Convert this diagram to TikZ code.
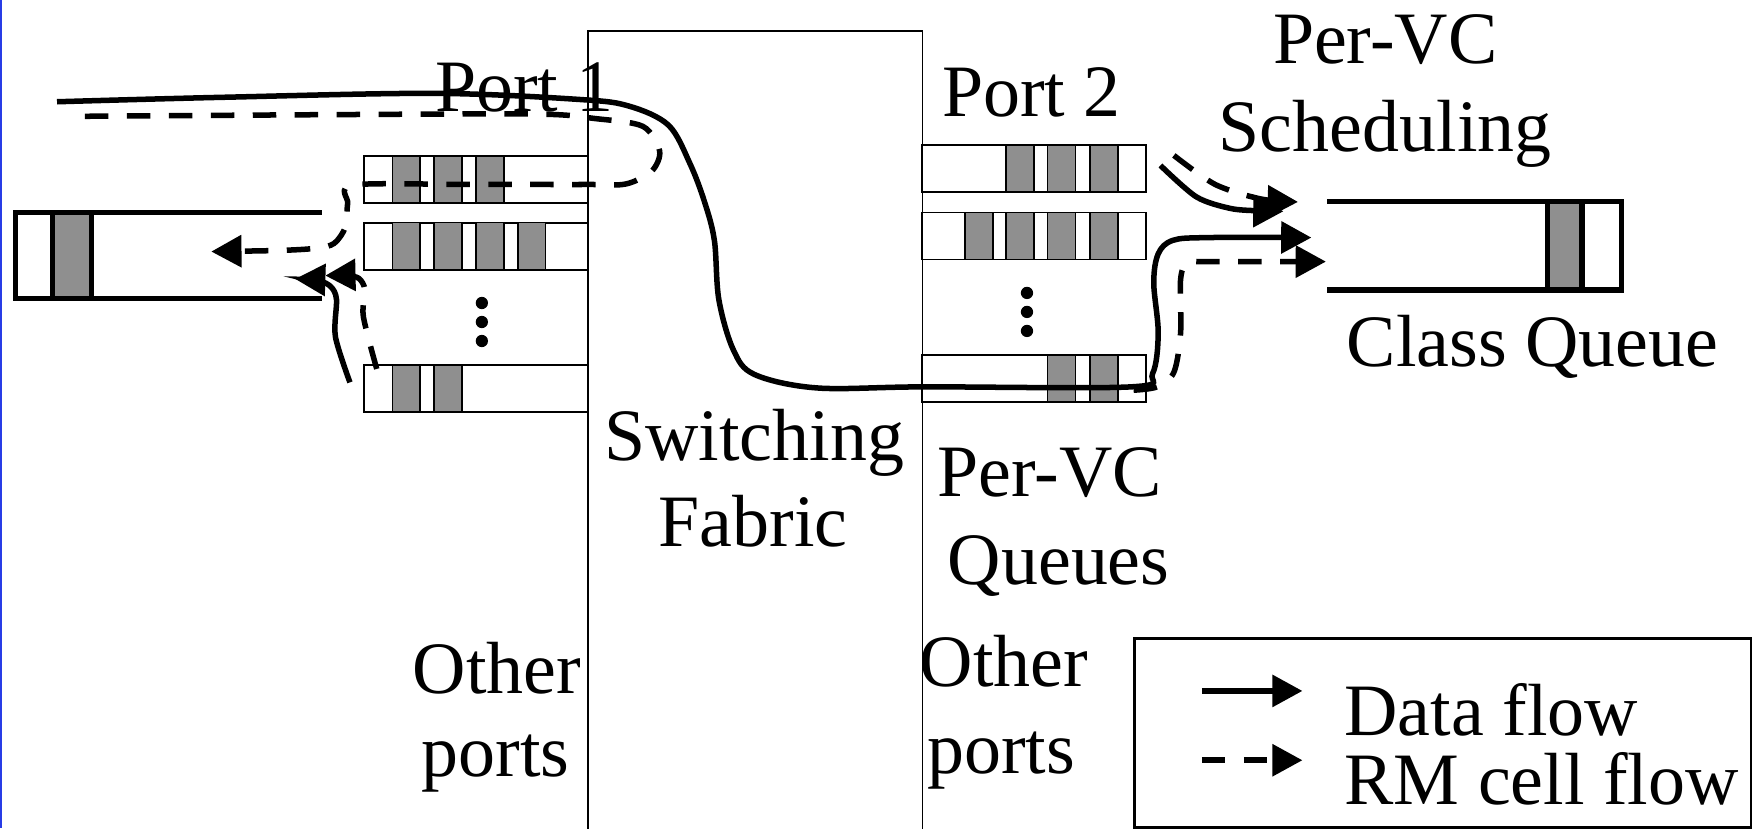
\documentclass[tikz,border=0pt]{standalone}
\usepackage{fontspec}
\setmainfont{Liberation Serif}
\usetikzlibrary{%
  arrows.meta,
  calc
}

\definecolor{cellgrey}{RGB}{143,143,143}
\definecolor{edgeblue}{RGB}{40,60,230}

\begin{document}
\begin{tikzpicture}[x=0.01cm, y=-0.01cm,
    font=\fontsize{18.8}{22.5}\selectfont,
    dataflow/.style={line width=1.4pt, -{Triangle[length=0.27cm,width=0.28cm]}},
    rmflow/.style={dataflow, dash pattern=on 0.21cm off 0.165cm},
    rowq/.style={draw, line width=0.45pt, minimum width=2.0cm, minimum height=0.42cm, inner sep=0},
    cell/.style={draw, fill=cellgrey, line width=0.45pt},
    bigq/.style={line width=1.3pt},
    lbl/.style={inner sep=0, anchor=base}]
    \useasboundingbox (0,0) rectangle (1568,741);
    \draw[edgeblue, line width=0.6pt] (0.8,0) -- (0.8,741);

    % switching fabric and the two sets of per-VC queues
    \node[draw, line width=0.4pt, minimum width=2.99cm, minimum height=7.32cm, inner sep=0] (fabric) at (675.5,394) {};

    \node[rowq] (q1a) at (425.5,160.6) {};
    \node[rowq] (q1b) at (425.5,220.2) {};
    \node[rowq] (q1c) at (425.5,347.2) {};
    \foreach \cx in {351,388,425.5} {
        \draw[cell] (\cx,139.5) rectangle ++(25,42.2);
    }
    \foreach \cx in {351,388,425.5,463} {
        \draw[cell] (\cx,199) rectangle ++(25,42.4);
    }
    \foreach \cx in {351,388} {
        \draw[cell] (\cx,326.5) rectangle ++(25,41.5);
    }

    \node[rowq] (q2a) at (925,151) {};
    \node[rowq] (q2b) at (925,211) {};
    \node[rowq] (q2c) at (925,338.8) {};
    \foreach \cx in {900,937,975} {
        \draw[cell] (\cx,130) rectangle ++(25,42);
    }
    \foreach \cx in {863,900,937,975} {
        \draw[cell] (\cx,190) rectangle ++(25,42);
    }
    \foreach \cx in {937,975} {
        \draw[cell] (\cx,317.8) rectangle ++(25,42);
    }

    \foreach \dy in {271,288,305} {
        \fill (431,\dy) circle (5.5);
        \fill (918.6,\dy-9) circle (5.5);
    }

    % class queues
    \fill[cellgrey] (47,190) rectangle (82,267);
    \draw[bigq] (288,190) -- (14,190) -- (14,267) -- (288,267);
    \draw[bigq] (47,190) -- (47,267);
    \draw[bigq] (82,190) -- (82,267);

    \fill[cellgrey] (1384,180.4) rectangle (1415,259.4);
    \draw[bigq] (1187,180.4) -- (1450,180.4) -- (1450,259.4) -- (1187,259.4);
    \draw[bigq] (1384,180.4) -- (1384,259.4);
    \draw[bigq] (1415,180.4) -- (1415,259.4);

    % flows
    \coordinate (dataA) at (51,91);
    \coordinate (dataB) at (1173,212.5);
    \coordinate (rmA) at (76,104);
    \coordinate (rmB) at (189,225);
    \coordinate (lsA) at (313,342);
    \coordinate (lsB) at (264,249.5);
    \coordinate (ldA) at (337,330);
    \coordinate (ldB) at (291,246.5);
    \coordinate (usA) at (1038,148);
    \coordinate (usB) at (1148,189);
    \coordinate (udA) at (1050,139);
    \coordinate (udB) at (1161,180.6);
    \coordinate (lrA) at (1014,349);
    \coordinate (lrB) at (1186,234);

    \draw[dataflow] plot[smooth, tension=0.55] coordinates {(dataA) (200,87) (389,83.5) (519,89)
        (563,95) (598,112) (617,146) (630,180) (639,215) (643,268) (656,313) (675,335) (731,347)
        (827,346) (1012,346) (1031,334) (1036,298) (1032,253) (1036,227) (1049,215) (1080,212.5) (dataB)};
    \draw[rmflow] plot[smooth, tension=0.5] coordinates {(rmA) (300,102.5) (480,102) (532,106)
        (575,113) (590,135) (583,153) (560,164.5) (526,165) (420,165) (316,165.5) (311,182)
        (309,203) (299,217.6) (283,222) (250,224) (rmB)};

    \draw[dataflow] plot[smooth, tension=0.5] coordinates {(lsA) (300,301) (301,268) (296,256.5) (285,251) (lsB)};
    \draw[rmflow] plot[smooth, tension=0.5] coordinates {(ldA) (325,283) (326.5,259.4) (321,249) (310,246.5) (ldB)};

    \draw[dataflow] plot[smooth, tension=0.5] coordinates {(usA) (1070,176) (1100,186.3) (1124,188.5) (usB)};
    \draw[rmflow] plot[smooth, tension=0.5] coordinates {(udA) (1087,165) (1128,178) (udB)};
    \draw[rmflow] plot[smooth, tension=0.5] coordinates {(lrA) (1035,346) (1050,333) (1056,298)
        (1056,250) (1062,235) (1080,234) (lrB)};

    % labels
    \node[lbl] (port1) at (469,100) {Port 1};
    \node[lbl] (port2) at (922.5,104.6) {Port 2};
    \node[lbl] (schedA) at (1239,56.6) {Per-VC};
    \node[lbl] (schedB) at (1239,135.7) {Scheduling};
    \node[lbl] (classq) at (1371,328) {Class Queue};
    \node[lbl] (fabA) at (674.5,411.5) {Switching};
    \node[lbl] (fabB) at (673.5,489) {Fabric};
    \node[lbl] (pvcA) at (939,444) {Per-VC};
    \node[lbl] (pvcB) at (947,523) {Queues};
    \node[lbl] (otherLA) at (444.5,620) {Other};
    \node[lbl] (otherLB) at (443.5,694.7) {ports};
    \node[lbl] (otherRA) at (898,614) {Other};
    \node[lbl] (otherRB) at (895.6,691.6) {ports};

    % legend
    \node[draw, line width=0.6pt, minimum width=5.51cm, minimum height=1.69cm, inner sep=0] (legend) at (1290.5,655.5) {};
    \coordinate (legA) at (1075,618);
    \coordinate (legB) at (1165,618);
    \coordinate (legC) at (1075,680);
    \coordinate (legD) at (1165,680);
    \draw[dataflow] (legA) -- (legB);
    \draw[rmflow] (legC) -- (legD);
    \node[lbl, anchor=base west] (legdata) at (1202,657.5) {Data flow};
    \node[lbl, anchor=base west] (legrm) at (1202,720) {RM cell flow};
\end{tikzpicture}
\end{document}
